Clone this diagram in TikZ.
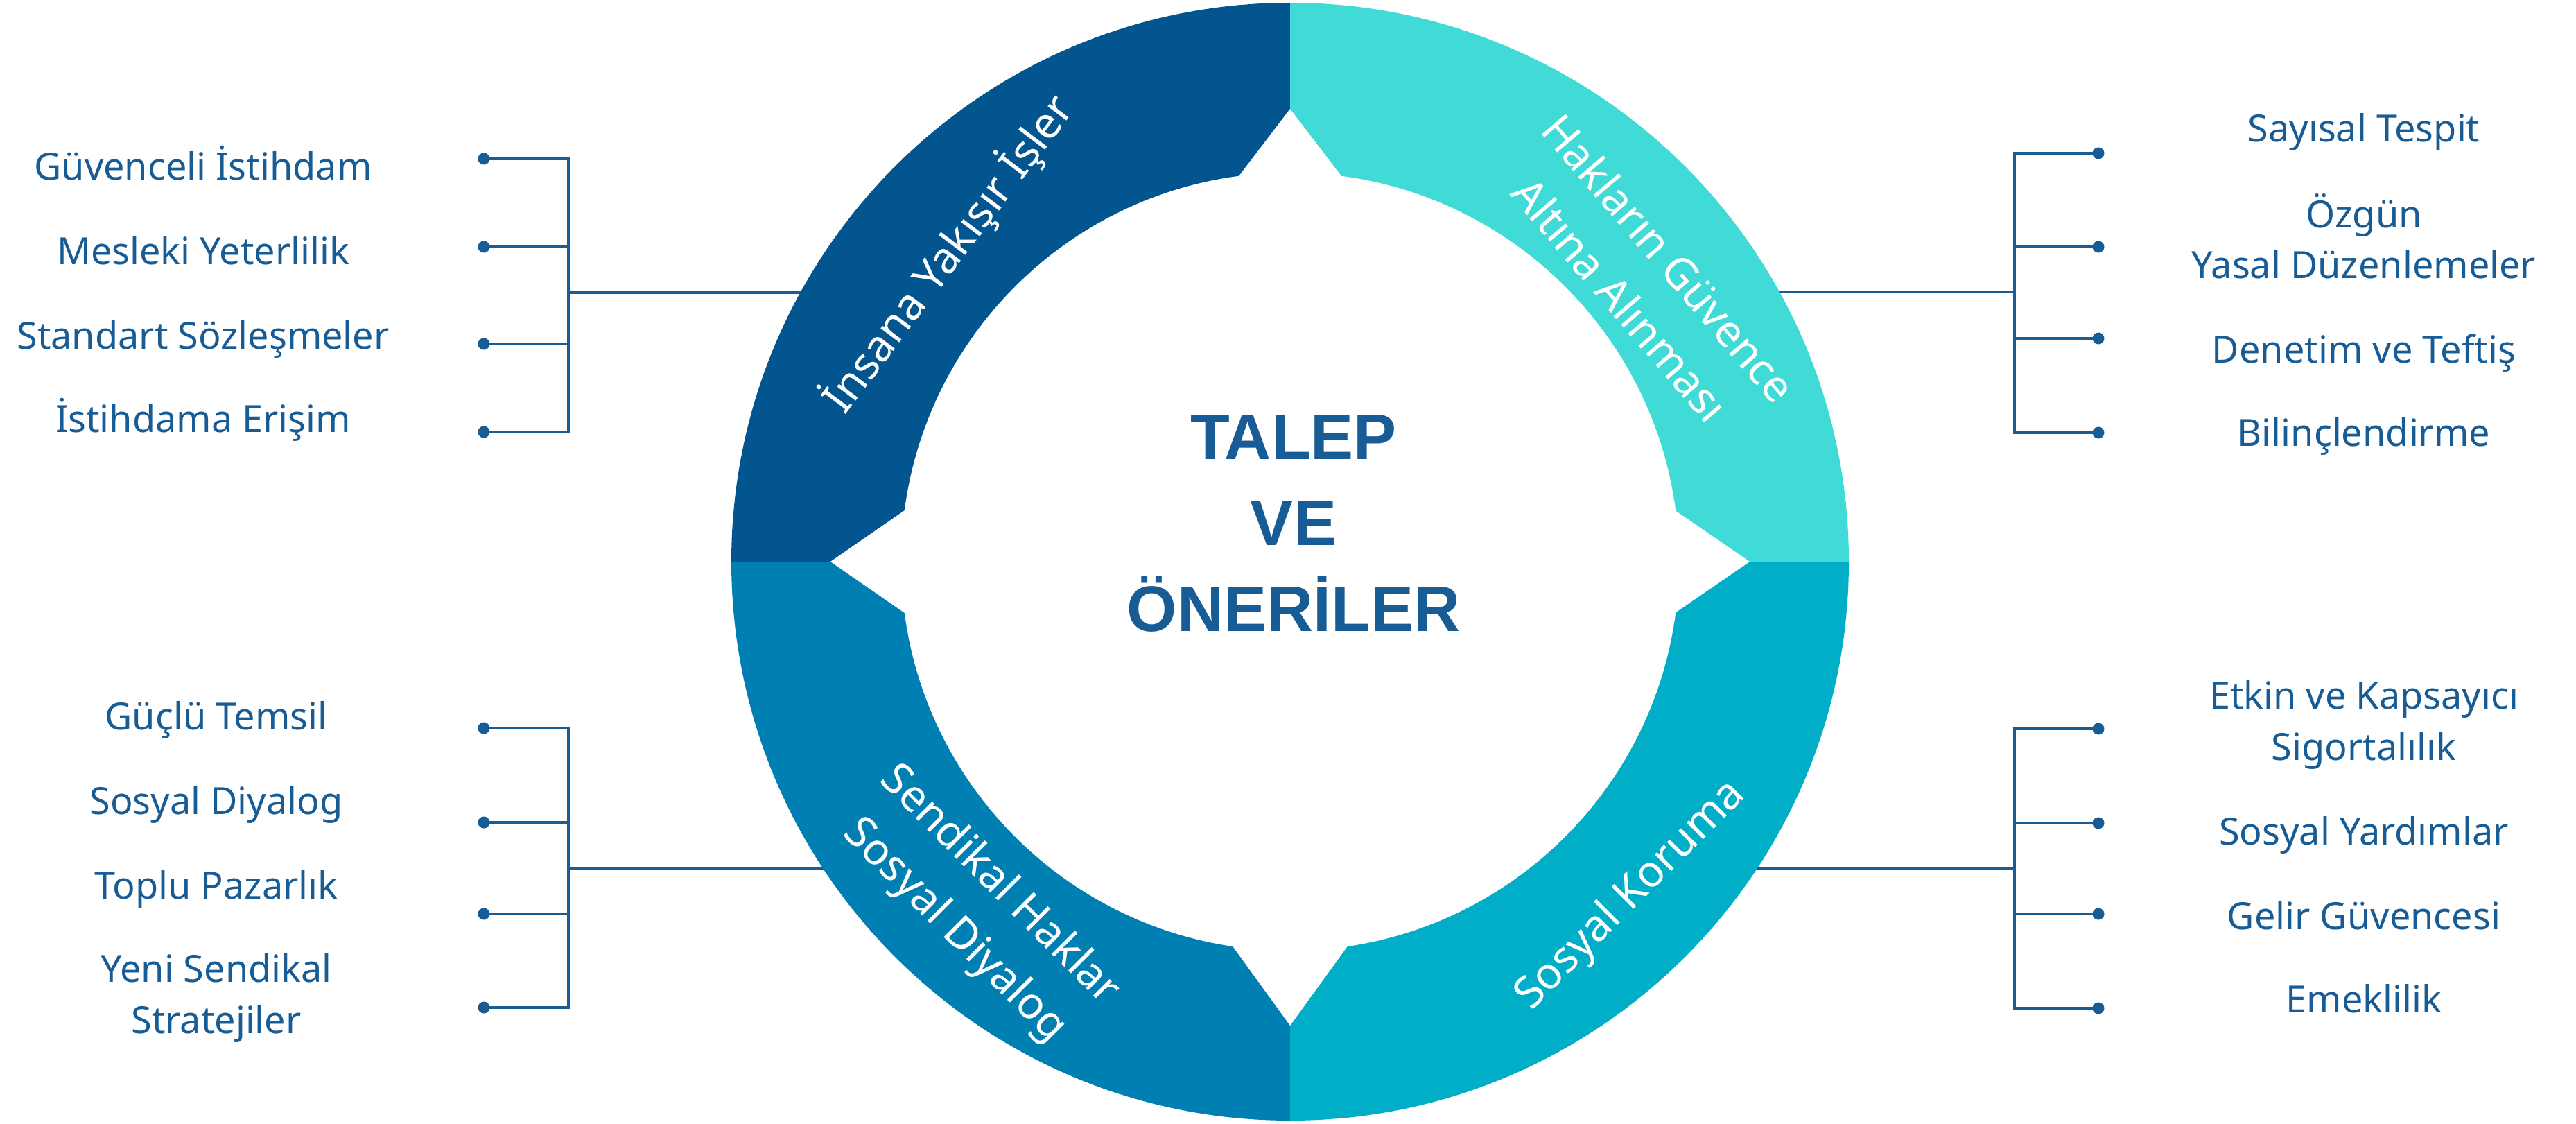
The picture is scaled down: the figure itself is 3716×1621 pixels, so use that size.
\documentclass[tikz,border=0pt]{standalone}
\usepackage{fontspec}
\setmainfont{Noto Sans}
\newfontfamily\headfont{Liberation Sans}
\definecolor{tb}{HTML}{185C96}
\definecolor{qa}{HTML}{03558F}
\definecolor{qb}{HTML}{40DAD7}
\definecolor{qc}{HTML}{0080B2}
\definecolor{qd}{HTML}{00AEC8}
\tikzset{
  item/.style={text=tb, font=\fontsize{54}{73.5}\selectfont, anchor=base, align=center, inner sep=0pt},
  ringtxt/.style={text=white, font=\fontsize{63}{92}\selectfont, align=center, inner sep=0pt},
  conn/.style={draw=tb, line width=4.5pt, line join=miter},
  dotnode/.style={circle, fill=tb, minimum size=17pt, inner sep=0pt},
}
\begin{document}
\begin{tikzpicture}[x=1pt,y=-1pt]
\useasboundingbox[fill=white] (0,0) rectangle (3716,1621);

% ---- left top group
\node[dotnode] (l1d) at (698,229) {};
\node[dotnode] (l2d) at (698,356) {};
\node[dotnode] (l3d) at (698,496) {};
\node[dotnode] (l4d) at (698,623) {};
\coordinate (ljA) at (820,422);
\coordinate (leA) at (1300,422);
\draw[conn] (l1d.center) -- (l1d.center -| ljA) -- (l4d.center -| ljA) -- (l4d.center);
\draw[conn] (l2d.center) -- (l2d.center -| ljA);
\draw[conn] (l3d.center) -- (l3d.center -| ljA);
\draw[conn] (ljA) -- (leA);
\node[item] (l1) at (293,260) {Güvenceli İstihdam};
\node[item] (l2) at (293,381.5) {Mesleki Yeterlilik};
\node[item] (l3) at (293,503) {Standart Sözleşmeler};
\node[item] (l4) at (293,623) {İstihdama Erişim};

% ---- right top group
\node[dotnode] (r1d) at (3027,221) {};
\node[dotnode] (r2d) at (3027,356) {};
\node[dotnode] (r3d) at (3027,488) {};
\node[dotnode] (r4d) at (3027,624) {};
\coordinate (rjA) at (2906,421);
\coordinate (reA) at (2420,421);
\draw[conn] (r1d.center) -- (r1d.center -| rjA) -- (r4d.center -| rjA) -- (r4d.center);
\draw[conn] (r2d.center) -- (r2d.center -| rjA);
\draw[conn] (r3d.center) -- (r3d.center -| rjA);
\draw[conn] (rjA) -- (reA);
\node[item] (r1) at (3410,205) {Sayısal Tespit};
\node[item] (r2) at (3410,401.6) {Özgün\\Yasal Düzenlemeler};
\node[item] (r3) at (3410,523) {Denetim ve Teftiş};
\node[item] (r4) at (3410,643) {Bilinçlendirme};

% ---- left bottom group
\node[dotnode] (b1d) at (698,1050) {};
\node[dotnode] (b2d) at (698,1186) {};
\node[dotnode] (b3d) at (698,1318) {};
\node[dotnode] (b4d) at (698,1453) {};
\coordinate (ljB) at (820,1252);
\coordinate (leB) at (1330,1252);
\draw[conn] (b1d.center) -- (b1d.center -| ljB) -- (b4d.center -| ljB) -- (b4d.center);
\draw[conn] (b2d.center) -- (b2d.center -| ljB);
\draw[conn] (b3d.center) -- (b3d.center -| ljB);
\draw[conn] (ljB) -- (leB);
\node[item] (b1) at (312,1052.6) {Güçlü Temsil};
\node[item] (b2) at (312,1174) {Sosyal Diyalog};
\node[item] (b3) at (312,1296) {Toplu Pazarlık};
\node[item] (b4) at (312,1490) {Yeni Sendikal\\Stratejiler};

% ---- right bottom group
\node[dotnode] (s1d) at (3027,1051) {};
\node[dotnode] (s2d) at (3027,1187) {};
\node[dotnode] (s3d) at (3027,1318) {};
\node[dotnode] (s4d) at (3027,1454) {};
\coordinate (rjB) at (2906,1253);
\coordinate (reB) at (2400,1253);
\draw[conn] (s1d.center) -- (s1d.center -| rjB) -- (s4d.center -| rjB) -- (s4d.center);
\draw[conn] (s2d.center) -- (s2d.center -| rjB);
\draw[conn] (s3d.center) -- (s3d.center -| rjB);
\draw[conn] (rjB) -- (reB);
\node[item] (s1) at (3410,1096) {Etkin ve Kapsayıcı\\Sigortalılık};
\node[item] (s2) at (3410,1218) {Sosyal Yardımlar};
\node[item] (s3) at (3410,1340) {Gelir Güvencesi};
\node[item] (s4) at (3410,1460) {Emeklilik};

% ---- ring
\coordinate (c) at (1861,810);
\begin{scope}\clip (0,0) rectangle (1861,810); \fill[qa] (c) circle[radius=806]; \end{scope}
\begin{scope}\clip (1861,0) rectangle (3716,810); \fill[qb] (c) circle[radius=806]; \end{scope}
\begin{scope}\clip (0,810) rectangle (1861,1621); \fill[qc] (c) circle[radius=806]; \end{scope}
\begin{scope}\clip (1861,810) rectangle (3716,1621); \fill[qd] (c) circle[radius=806]; \end{scope}
\fill[white] (c) circle[radius=561];
\fill[white] (1861,157) -- (1771,275) -- (1951,275) -- cycle;
\fill[white] (1198,810) -- (1331,718) -- (1331,902) -- cycle;
\fill[white] (2524,810) -- (2390,718) -- (2390,902) -- cycle;
\fill[white] (1861,1479) -- (1761,1341) -- (1961,1341) -- cycle;

% ---- ring labels
\node[ringtxt, rotate=53] (t1) at (1368,366) {İnsana Yakışır İşler};
\node[ringtxt, rotate=-49.5] (t2) at (2373,402) {Hakların Güvence\\Altına Alınması};
\node[ringtxt, rotate=-45] (t3) at (1409,1310) {Sendikal Haklar\\Sosyal Diyalog};
\node[ringtxt, rotate=45] (t4) at (2353,1292) {Sosyal Koruma};

% ---- centre
\node[text=tb, font=\headfont\bfseries\fontsize{93}{124}\selectfont, align=center, anchor=base, inner sep=0pt] (ctr) at (1866,910) {TALEP\\VE\\ÖNERİLER};
\end{tikzpicture}
\end{document}
